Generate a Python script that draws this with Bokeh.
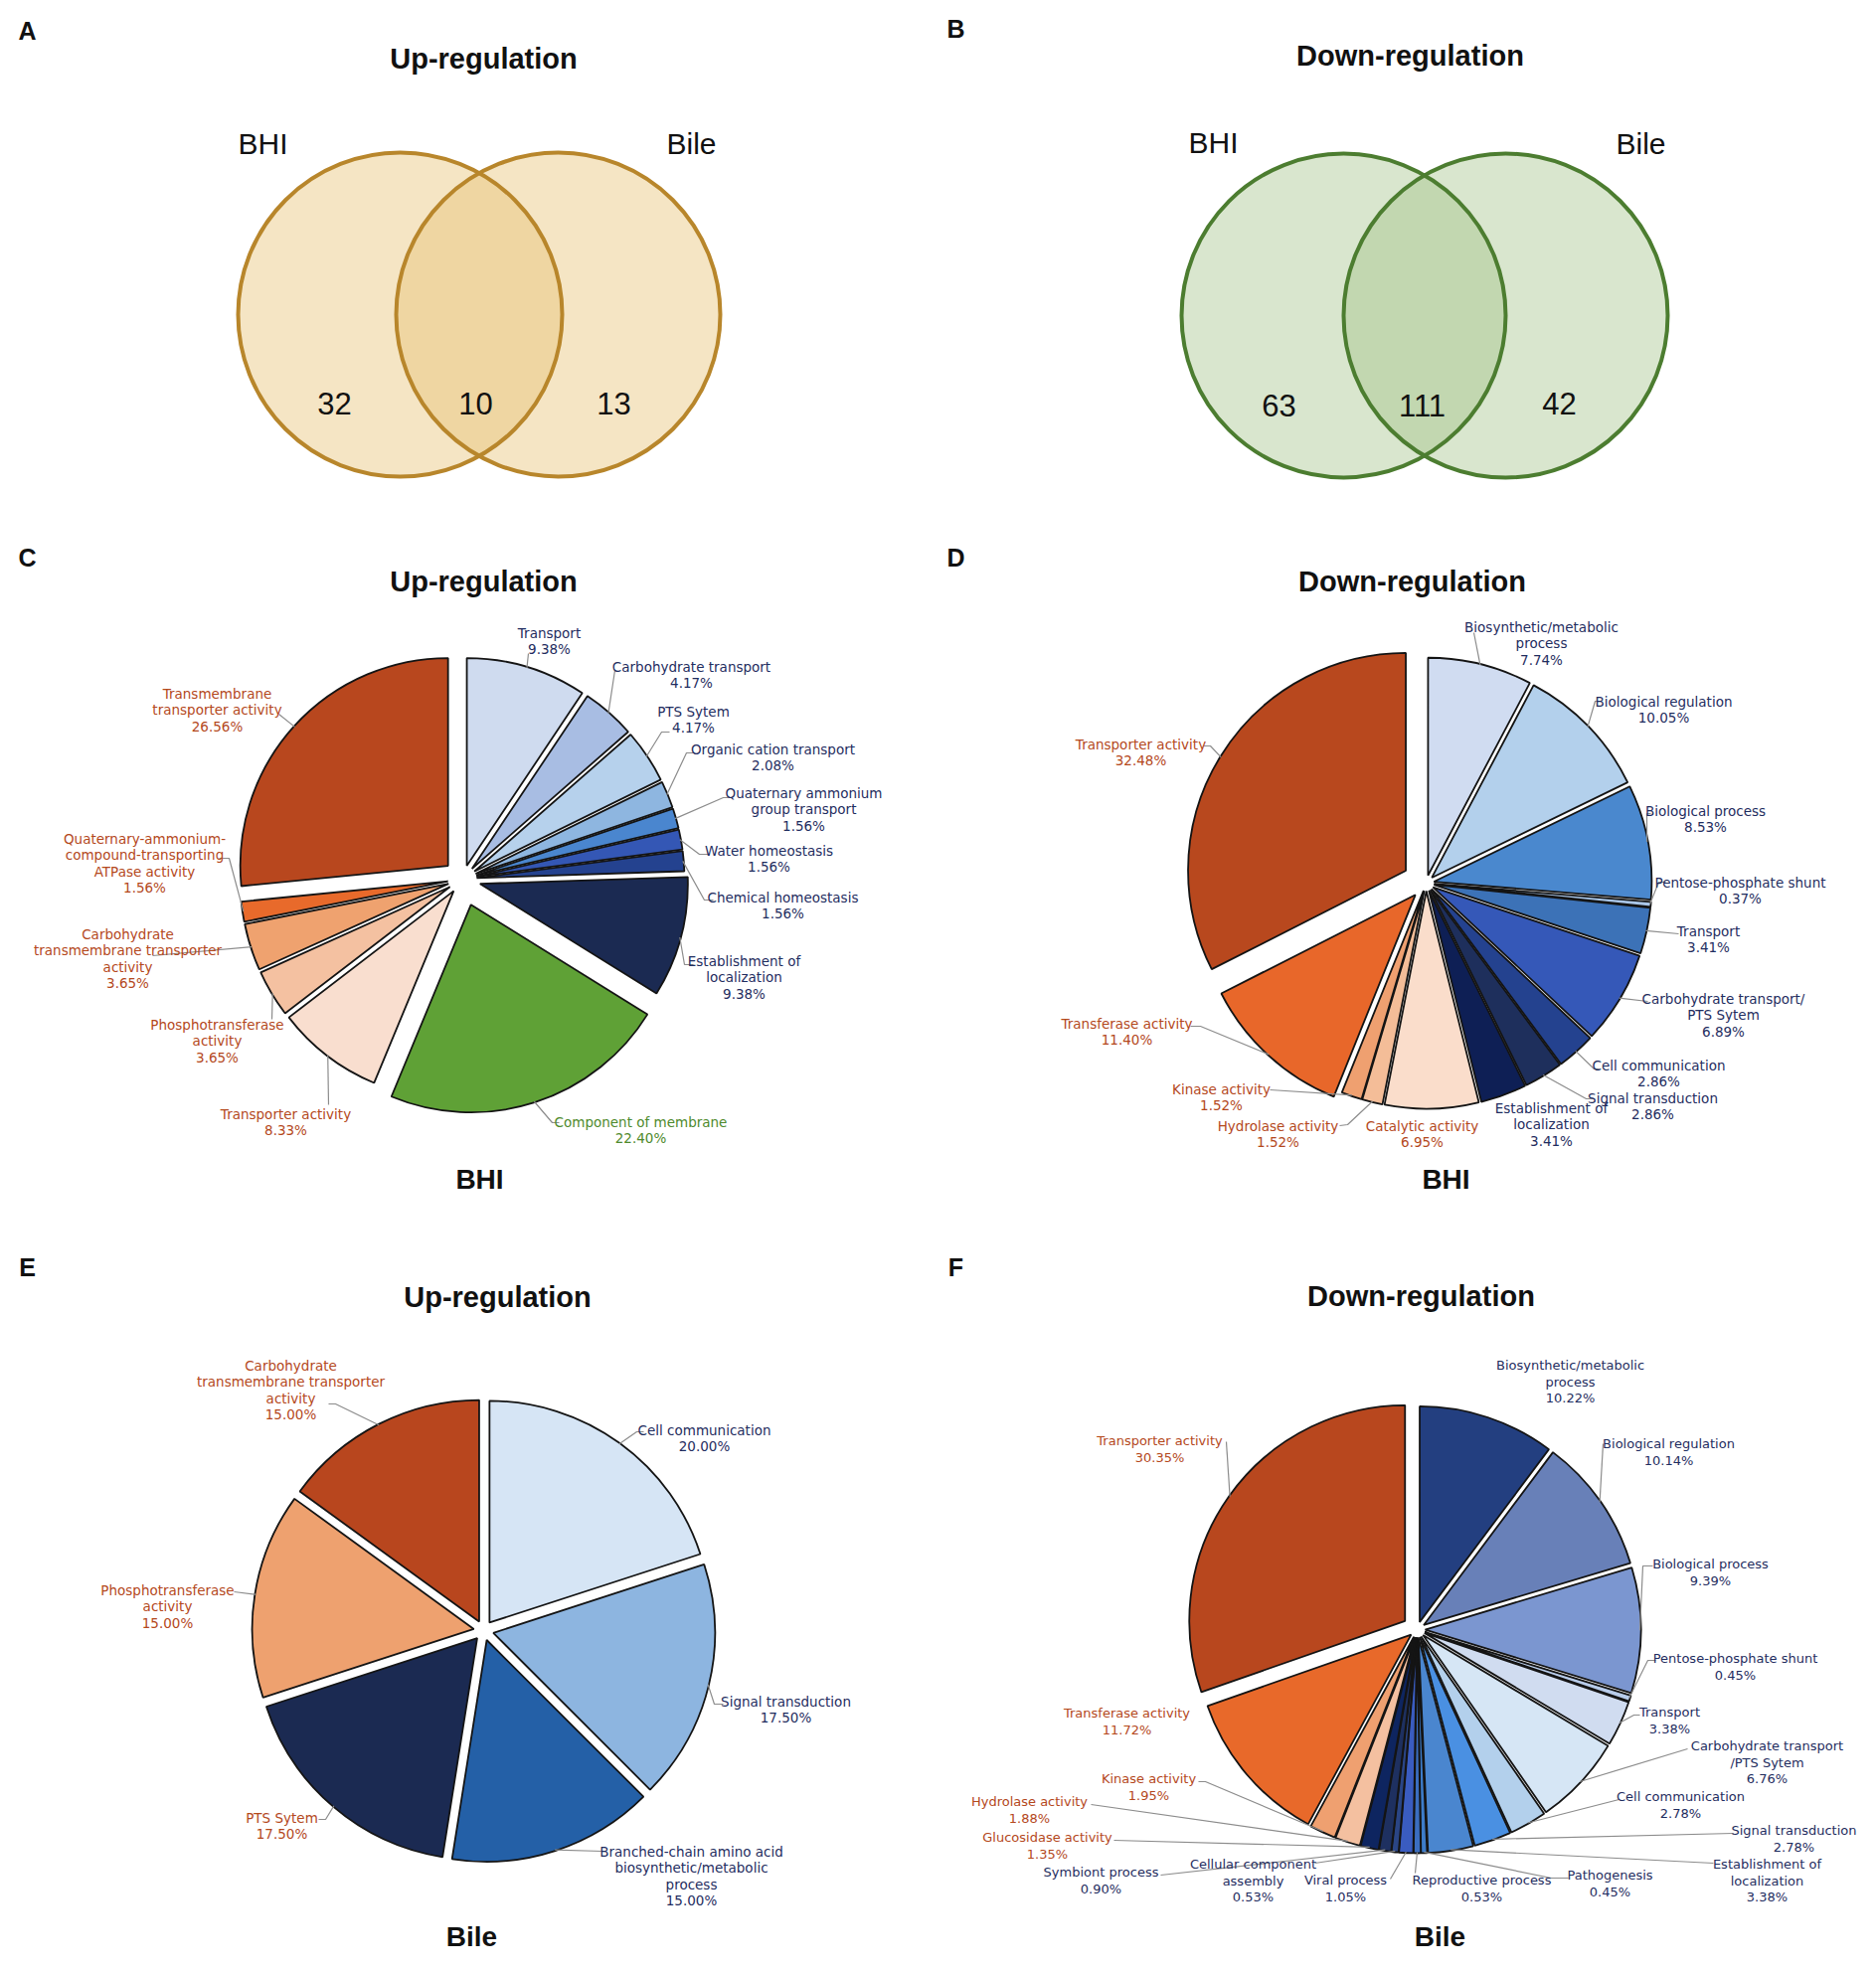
import numpy as np
from bokeh.plotting import figure
from bokeh.models import Range1d, ColumnDataSource
from bokeh.embed import file_html
from bokeh.resources import INLINE
from bokeh.core.properties import value

# ---------------- data ----------------
venn_sets = ["BHI", "Bile"]
venn_up_counts = [32, 10, 13]       # BHI only, shared, Bile only
venn_down_counts = [63, 111, 42]

c_labels = ["Transport", "Carbohydrate transport", "PTS Sytem", "Organic cation transport",
            "Quaternary ammonium\ngroup transport", "Water homeostasis", "Chemical homeostasis",
            "Establishment of\nlocalization", "Component of membrane", "Transporter activity",
            "Phosphotransferase\nactivity", "Carbohydrate\ntransmembrane transporter\nactivity",
            "Quaternary-ammonium-\ncompound-transporting\nATPase activity",
            "Transmembrane\ntransporter activity"]
c_values = [9.38, 4.17, 4.17, 2.08, 1.56, 1.56, 1.56, 9.38, 22.40, 8.33, 3.65, 3.65, 1.56, 26.56]

d_labels = ["Biosynthetic/metabolic\nprocess", "Biological regulation", "Biological process",
            "Pentose-phosphate shunt", "Transport", "Carbohydrate transport/\nPTS Sytem",
            "Cell communication", "Signal transduction", "Establishment of\nlocalization",
            "Catalytic activity", "Hydrolase activity", "Kinase activity",
            "Transferase activity", "Transporter activity"]
d_values = [7.74, 10.05, 8.53, 0.37, 3.41, 6.89, 2.86, 2.86, 3.41, 6.95, 1.52, 1.52, 11.40, 32.48]

e_labels = ["Cell communication", "Signal transduction",
            "Branched-chain amino acid\nbiosynthetic/metabolic\nprocess", "PTS Sytem",
            "Phosphotransferase\nactivity", "Carbohydrate\ntransmembrane transporter\nactivity"]
e_values = [20.00, 17.50, 15.00, 17.50, 15.00, 15.00]

f_labels = ["Biosynthetic/metabolic\nprocess", "Biological regulation", "Biological process",
            "Pentose-phosphate shunt", "Transport", "Carbohydrate transport\n/PTS Sytem",
            "Cell communication", "Signal transduction", "Establishment of\nlocalization",
            "Pathogenesis", "Reproductive process", "Viral process",
            "Cellular component\nassembly", "Symbiont process", "Glucosidase activity",
            "Hydrolase activity", "Kinase activity", "Transferase activity", "Transporter activity"]
f_values = [10.22, 10.14, 9.39, 0.45, 3.38, 6.76, 2.78, 2.78, 3.38, 0.45, 0.53, 1.05,
            0.53, 0.90, 1.35, 1.88, 1.95, 11.72, 30.35]

# ---------------- styles ----------------
ORANGE_T = "#B4481C"
NAVY_T = "#1F2D60"
GREEN_T = "#4E8A2C"
LABEL_FONT = "DejaVu Sans"
HEAD_FONT = "Liberation Sans"
LH = 16.5

W, H = 1871, 1967
p = figure(width=W, height=H, x_range=Range1d(0, W), y_range=Range1d(-H, 0),
           output_backend="svg", toolbar_location=None, min_border=0,
           x_axis_location=None, y_axis_location=None)
p.grid.visible = False
p.outline_line_color = None
p.background_fill_color = "white"
p.border_fill_color = "white"


def Y(y):
    return -y


text_items = {}


def add_text(x, y, t, color, size, font, style="normal"):
    key = (size, font, style)
    d = text_items.setdefault(key, dict(x=[], y=[], t=[], c=[]))
    d["x"].append(x)
    d["y"].append(Y(y))
    d["t"].append(t)
    d["c"].append(color)


lead_xs, lead_ys = [], []


def draw_pie(values, colors, cx, cy, R, explode, labels, label_pos, leaders, tcolors, fsize="13.5px"):
    v = np.array(values, float)
    f = np.concatenate([[0.0], np.cumsum(v)]) / v.sum()
    f0, f1 = f[:-1], f[1:]
    am = np.pi / 2 - 2 * np.pi * (f0 + f1) / 2
    ex = np.array(explode, float)
    xs = cx + ex * np.cos(am)
    ys = Y(cy) + ex * np.sin(am)
    src = ColumnDataSource(dict(x=xs, y=ys, start=np.pi / 2 - 2 * np.pi * f1,
                                end=np.pi / 2 - 2 * np.pi * f0, color=colors))
    p.wedge(x="x", y="y", radius=R, start_angle="start", end_angle="end",
            direction="anticlock", fill_color="color", line_color="#141414",
            line_width=1.8, source=src)
    for i, lab in enumerate(labels):
        lines = lab.split("\n") + [f"{values[i]:.2f}%"]
        lx, ly = label_pos[i]
        for k, t in enumerate(lines):
            add_text(lx, ly + k * LH, t, tcolors[i], fsize, LABEL_FONT)
        if leaders[i]:
            ax = xs[i] + (R - 1) * np.cos(am[i])
            ay = ys[i] + (R - 1) * np.sin(am[i])
            lead_xs.append([pt[0] for pt in leaders[i]] + [ax])
            lead_ys.append([Y(pt[1]) for pt in leaders[i]] + [ay])


# ---------------- Venn diagrams ----------------
def draw_venn(counts, lc, rc, r, fill, alpha, stroke, label_pos, num_pos):
    src = ColumnDataSource(dict(x=[lc[0], rc[0]], y=[Y(lc[1]), Y(rc[1])]))
    p.circle(x="x", y="y", radius=r, fill_color=fill, fill_alpha=alpha, line_color=None, source=src)
    p.circle(x="x", y="y", radius=r, fill_color=None, line_color=stroke, line_width=4, source=src)
    for name, (x, y) in zip(venn_sets, label_pos):
        add_text(x, y, name, "#111111", "30px", HEAD_FONT)
    for n, (x, y) in zip(counts, num_pos):
        add_text(x, y, str(n), "#111111", "31px", HEAD_FONT)


draw_venn(venn_up_counts, (402, 316), (561, 316), 163, "#E6C072", 0.42, "#B8862B",
          [(264, 144), (695, 144)], [(336, 405), (478, 405), (617, 405)])
draw_venn(venn_down_counts, (1351, 317), (1514, 317), 163, "#9FC084", 0.40, "#4C7D30",
          [(1220, 143), (1650, 144)], [(1286, 407), (1430, 407), (1568, 405)])

# ---------------- Pie C ----------------
c_colors = ["#CFDBEF", "#A8BDE3", "#B6D1EC", "#8EB6E0", "#4A86CF", "#3457B5", "#24428F",
            "#1B2A52", "#5FA136", "#F9DECF", "#F4C1A1", "#EFA26F", "#E86A2B", "#B8471E"]
c_explode = [14, 14, 14, 14, 14, 14, 14, 18, 27, 15, 15, 15, 15, 20]
c_pos = [(552, 636), (695, 670), (697, 715), (777, 753), (808, 797), (773, 855), (787, 902),
         (748, 966), (644, 1128), (287, 1120), (218, 1030), (128, 939), (145, 843), (218, 697)]
c_lead = [[(531, 657)], [(618, 674)], [(673, 736), (665, 736)], [(698, 757), (690, 757)],
          [(735, 802), (727, 802)], [(712, 859), (703, 859)], [(717, 905), (708, 905)],
          [(697, 970), (688, 970)], [(562, 1129), (555, 1129)], [(330, 1111)], [(273, 1025)],
          [(153, 961)], [(220, 863), (230, 863)], [(280, 718)]]
c_tc = [NAVY_T] * 8 + [GREEN_T] + [ORANGE_T] * 5
draw_pie(c_values, c_colors, 465, 884, 209, c_explode, c_labels, c_pos, c_lead, c_tc)

# ---------------- Pie D ----------------
d_colors = ["#D0DCF1", "#B3D0EC", "#4A88CE", "#A9C6E8", "#3C72B7", "#3558B8", "#24428F",
            "#1E2F5C", "#0E1F55", "#FADDCB", "#F4BD98", "#EFA070", "#E8672A", "#B8481E"]
d_explode = [8, 8, 8, 8, 8, 8, 8, 8, 8, 8, 8, 8, 16, 24]
d_pos = [(1550, 630), (1673, 705), (1715, 815), (1750, 887), (1718, 936), (1733, 1004),
         (1668, 1071), (1662, 1104), (1560, 1114), (1430, 1132), (1285, 1132), (1228, 1095),
         (1133, 1029), (1147, 748)]
d_lead = [[(1482, 636)], [(1610, 705), (1604, 705)], [(1660, 818), (1656, 818)],
          [(1675, 887), (1668, 887)], [(1688, 939)], [(1657, 1007)],
          [(1608, 1075), (1603, 1075)], [(1603, 1105), (1595, 1105)], None, None,
          [(1347, 1132), (1355, 1131)], [(1277, 1096)], [(1197, 1032), (1207, 1032)],
          [(1210, 750), (1217, 750)]]
d_tc = [NAVY_T] * 9 + [ORANGE_T] * 5
draw_pie(d_values, d_colors, 1434, 888, 219, d_explode, d_labels, d_pos, d_lead, d_tc)

# ---------------- Pie E ----------------
e_colors = ["#D6E5F5", "#8DB5E0", "#2460A7", "#1B2A52", "#EEA16F", "#B8461E"]
e_explode = [10] * 6
e_pos = [(708, 1438), (790, 1711), (695, 1862), (283, 1828), (168, 1599), (292, 1373)]
e_lead = [[(647, 1440), (640, 1440)], [(727, 1714), (718, 1714)], [(605, 1862)],
          [(320, 1830), (327, 1830)], [(235, 1601)], [(330, 1412), (337, 1412)]]
e_tc = [NAVY_T] * 3 + [ORANGE_T] * 3
draw_pie(e_values, e_colors, 486, 1640, 223, e_explode, e_labels, e_pos, e_lead, e_tc)

# ---------------- Pie F ----------------
f_colors = ["#233F80", "#6880B8", "#7B96D0", "#B8CCEA", "#D0DCF0", "#D6E6F5", "#B3D0EC",
            "#4A90E2", "#4A86CF", "#3D7CC9", "#3B6EC0", "#3A5CC0", "#2A4585", "#1E3060",
            "#0E2560", "#F4C0A0", "#EFA070", "#E8692A", "#B8471E"]
f_explode = [8] * 18 + [15]
f_pos = [(1579, 1373), (1678, 1452), (1720, 1573), (1745, 1668), (1679, 1722), (1777, 1756),
         (1690, 1807), (1804, 1841), (1777, 1875), (1619, 1886), (1490, 1891), (1353, 1891),
         (1260, 1875), (1107, 1883), (1053, 1848), (1035, 1812), (1155, 1789), (1133, 1723),
         (1166, 1449)]
f_lead = [None, [(1612, 1452)], [(1662, 1575), (1652, 1575)], [(1665, 1670), (1657, 1670)],
          [(1649, 1725), (1643, 1725)], [(1697, 1759)], [(1628, 1810)], [(1743, 1844)],
          [(1723, 1874)], [(1577, 1889), (1560, 1889)], [(1423, 1884)], [(1398, 1890)],
          [(1322, 1874)], [(1167, 1886)], [(1120, 1851)], [(1097, 1815)],
          [(1205, 1792), (1212, 1792)], None, [(1233, 1450)]]
f_tc = [NAVY_T] * 14 + [ORANGE_T] * 5
draw_pie(f_values, f_colors, 1425, 1639, 217, f_explode, f_labels, f_pos, f_lead, f_tc, "13px")

p.multi_line(xs=lead_xs, ys=lead_ys, line_color="#8C8C8C", line_width=1.2)

# ---------------- headings ----------------
panel_titles = [("A", (27, 30), "Up-regulation", (486, 58)),
                ("B", (961, 28), "Down-regulation", (1418, 55)),
                ("C", (27, 560), "Up-regulation", (486, 584)),
                ("D", (961, 560), "Down-regulation", (1420, 584)),
                ("E", (27, 1274), "Up-regulation", (500, 1304)),
                ("F", (961, 1274), "Down-regulation", (1429, 1303))]
for letter, (lx, ly), title, (tx, ty) in panel_titles:
    add_text(lx, ly, letter, "#111111", "25px", HEAD_FONT, "bold")
    add_text(tx, ty, title, "#111111", "29px", HEAD_FONT, "bold")
for name, (x, y) in [("BHI", (482, 1186)), ("BHI", (1454, 1186)),
                     ("Bile", (474, 1948)), ("Bile", (1448, 1948))]:
    add_text(x, y, name, "#111111", "28px", HEAD_FONT, "bold")

for (size, font, style), d in text_items.items():
    src = ColumnDataSource(d)
    p.text(x="x", y="y", text="t", text_color="c", source=src, text_align="center",
           text_baseline="middle", text_font=value(font), text_font_size=size,
           text_font_style=style)

open("out.html", "w").write(file_html(p, INLINE))
